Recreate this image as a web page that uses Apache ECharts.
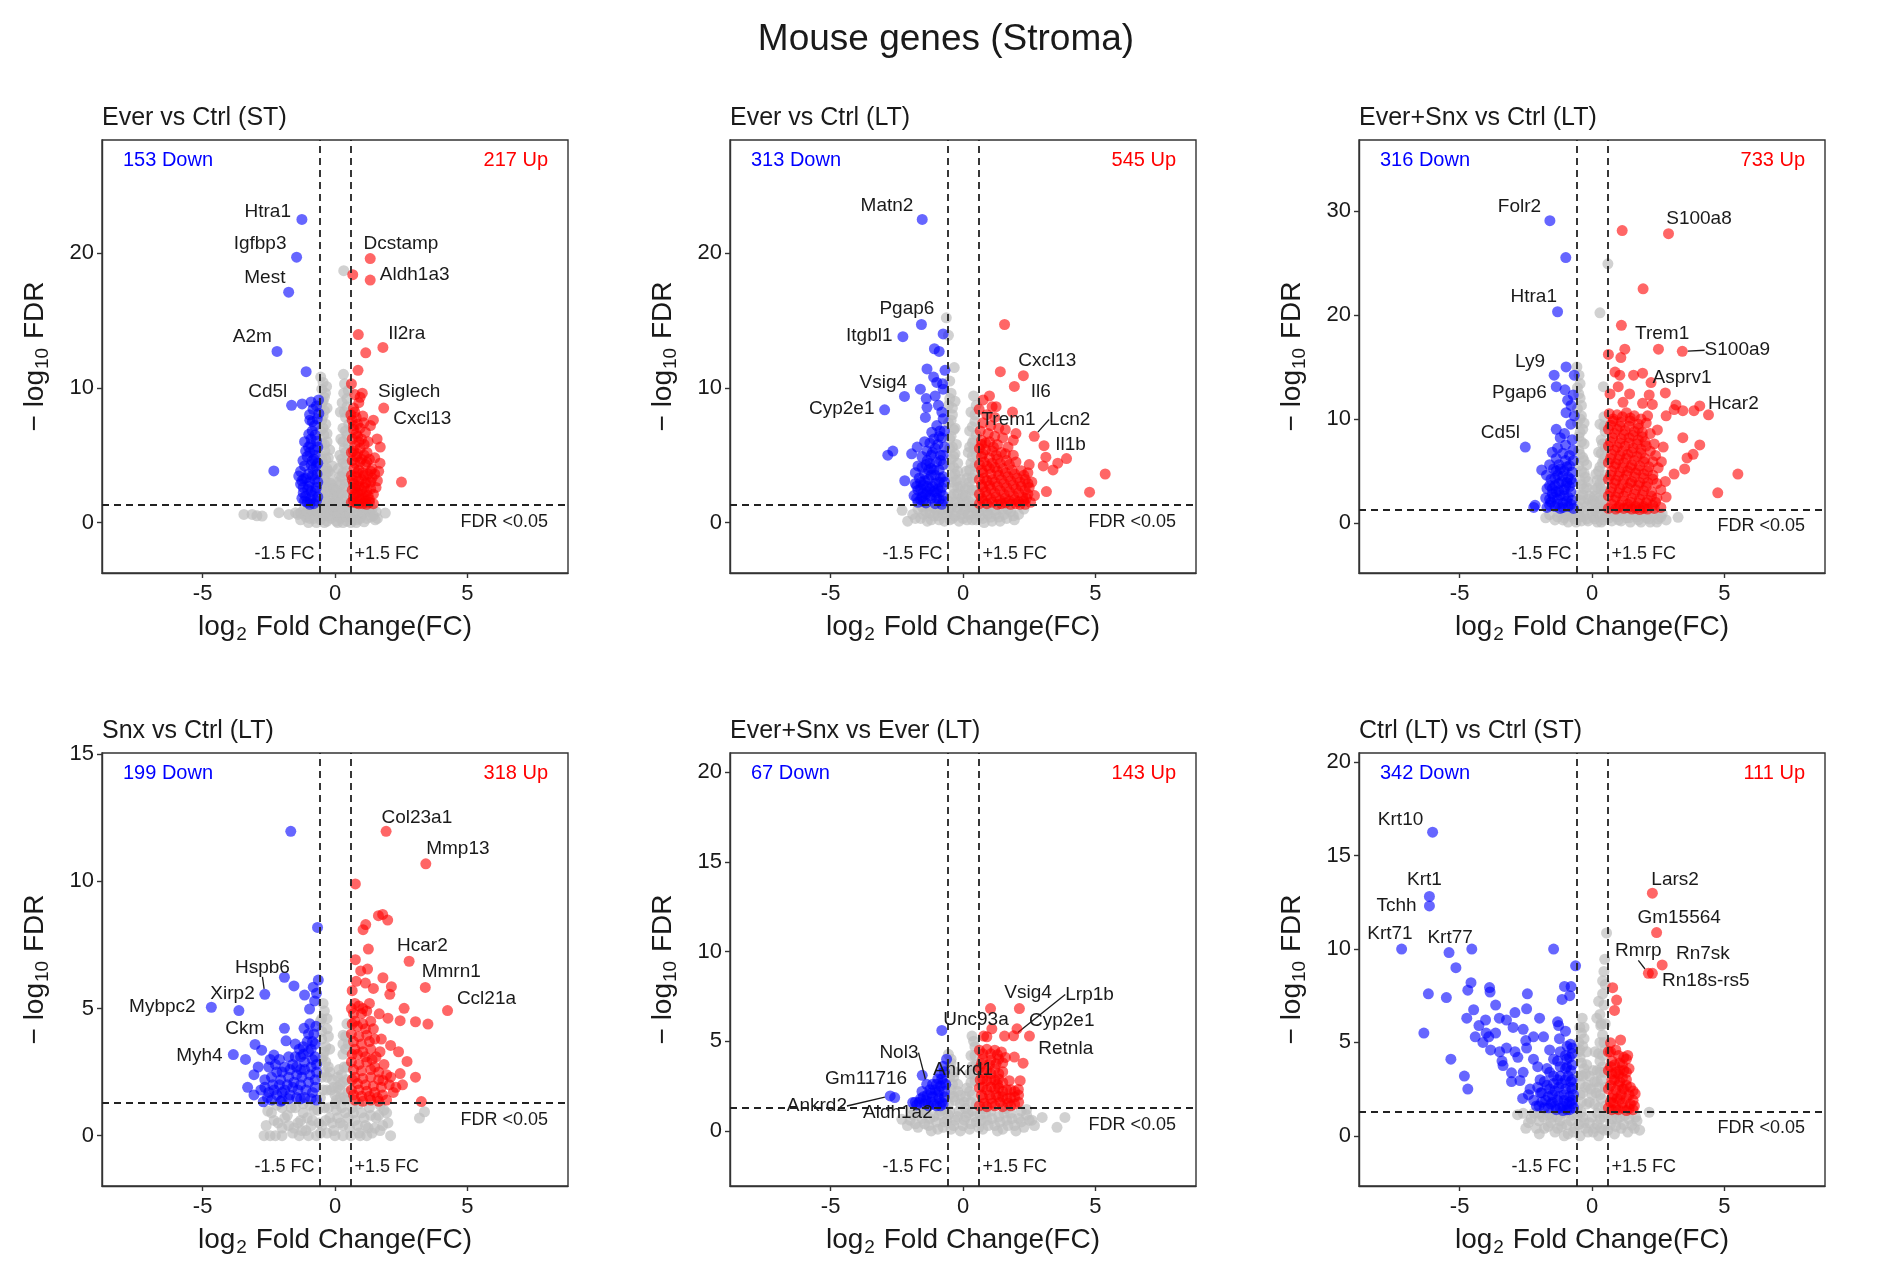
<!DOCTYPE html>
<html>
<head>
<meta charset="utf-8">
<title>Mouse genes (Stroma)</title>
<script src="https://cdn.jsdelivr.net/npm/echarts@6/dist/echarts.min.js"></script>
<style>
  html, body { margin: 0; padding: 0; background: #fff; }
  #chart { width: 1877px; height: 1261px; }
</style>
</head>
<body>
<div id="chart"></div>
<script>
var mainTitle = 'Mouse genes (Stroma)'
var titles = ['Ever vs Ctrl (ST)', 'Ever vs Ctrl (LT)', 'Ever+Snx vs Ctrl (LT)',
  'Snx vs Ctrl (LT)', 'Ever+Snx vs Ever (LT)', 'Ctrl (LT) vs Ctrl (ST)']
var downCounts = [153, 313, 316, 199, 67, 342]
var upCounts = [217, 545, 733, 318, 143, 111]
var xTicks = [-5, 0, 5]
var yTicks = [[0, 10, 20], [0, 10, 20], [0, 10, 20, 30], [0, 5, 10, 15], [0, 5, 10, 15, 20], [0, 5, 10, 15, 20]]
var yRanges = [[-3.75, 28.4], [-3.75, 28.4], [-4.8, 36.8], [-1.98, 15.05], [-3.07, 21.07], [-2.69, 20.5]]
var fcCut = 0.585   // log2(1.5)
var fdrCut = 1.301  // -log10(0.05)

// ---- Ever vs Ctrl (ST)
var p1Down = [[-1.09,11.2],[-1.24,8.8],[-0.9,8.95],[-0.62,9.1],[-0.7,8.65],[-0.96,8.0],[-0.83,8.4],[-0.61,8.1],[-0.77,7.2],[-0.67,7.7],[-0.86,6.8],[-0.99,6.55],[-0.9,6.2],[-0.7,6.05],[-0.92,5.8],[-0.8,5.4],[-1.0,5.6],[-0.65,5.6],[-1.11,5.3],[-0.75,5.0],[-1.05,4.9],[-0.86,4.6],[-1.21,4.6],[-0.9,4.3],[-0.72,4.2],[-0.83,3.95],[-1.3,3.8],[-1.0,3.6],[-0.68,3.6],[-1.37,3.45],[-1.18,3.25],[-0.77,3.2],[-0.95,3.0],[-1.3,2.85],[-0.99,2.7],[-0.7,2.6],[-1.03,2.45],[-0.74,2.35],[-1.2,2.2],[-0.85,2.0],[-1.11,1.95],[-0.92,1.7],[-0.7,1.6],[-1.05,1.5],[-0.8,1.4],[-2.31,3.83],
  [-1.15,4.2],[-1.1,3.3],[-1.25,3.1],[-0.8,4.7],[-0.95,5.2],[-0.75,6.5],[-0.85,7.5],[-0.95,7.6],[-1.15,6.0],[-1.2,2.6],[-0.9,2.3],[-1.15,1.6],[-0.95,1.35],[-0.65,1.9],[-0.65,3.0],[-0.65,4.4],[-0.85,3.5],[-1.25,1.8]]
var p1Up = [[0.67,18.4],[0.88,13.95],[1.16,12.6],[0.87,11.3],[0.62,10.3],[0.75,9.5],[0.9,8.9],[0.95,9.3],[0.7,8.5],[1.45,7.6],[1.34,7.2],[1.09,7.4],[0.8,7.8],[0.65,7.6],[0.95,7.0],[0.7,6.9],[1.15,6.7],[1.59,6.2],[0.85,6.4],[1.0,6.2],[0.65,6.2],[1.25,6.0],[1.71,5.6],[0.75,5.7],[0.95,5.5],[1.21,5.2],[0.62,5.2],[1.1,5.0],[0.82,4.9],[1.3,4.7],[1.5,4.8],[0.65,4.6],[0.95,4.5],[1.15,4.3],[1.4,4.0],[0.72,4.0],[0.9,3.9],[1.65,3.8],[1.05,3.7],[1.25,3.6],[0.62,3.5],[0.8,3.4],[1.4,3.3],[1.0,3.2],[1.2,3.0],[0.7,2.9],[2.51,3.0],[0.9,2.7],[0.75,2.55],[1.1,2.6],[1.35,2.5],[0.65,2.4],[0.85,2.2],[1.05,2.1],[1.25,2.0],[0.7,1.9],[0.95,1.7],[1.15,1.6],[0.62,1.5],[0.8,1.45],[1.05,1.4],[1.3,1.5],
  [0.6,8.0],[0.75,8.2],[0.85,7.3],[1.05,7.9],[0.7,7.2],[0.8,6.6],[0.9,6.0],[1.1,5.8],[0.7,5.3],[0.85,5.1],[1.0,4.7],[1.2,4.5],[0.75,4.4],[0.85,3.7],[1.1,3.5],[1.35,3.8],[0.65,3.2],[0.9,3.1],[1.15,2.9],[1.35,3.0],[1.5,3.6],[0.8,2.7],[1.0,2.4],[1.2,2.3],[1.45,2.1],[0.75,2.1],[0.9,1.9],[1.1,1.8],[1.3,1.7],[0.7,1.6],[0.9,1.4],[1.2,1.35],[1.45,1.4],[1.55,2.6],[1.6,3.1],[1.7,4.4]]
var p1Ns = [[-0.54,10.8],[-0.32,10.1],[-0.36,9.6],[-0.5,9.9],[-0.45,9.0],[-0.55,8.5],[-0.4,8.3],[-0.5,7.6],[-0.35,7.3],[-0.55,6.8],[-0.42,6.5],[-0.3,6.0],[-0.5,5.9],[-0.38,5.3],[-0.55,5.0],[-0.25,4.8],[-0.45,4.4],[-0.3,4.0],[-0.55,3.6],[-0.18,3.6],[-0.4,3.2],[-0.1,2.8],[-0.28,2.6],[-0.5,2.4],[-0.05,2.0],[-0.2,1.8],[-0.4,1.7],[-0.55,1.4],
  [0.32,11.0],[0.36,10.3],[0.33,9.6],[0.5,9.8],[0.27,8.9],[0.45,8.6],[0.2,8.2],[0.4,7.8],[0.52,7.3],[0.3,7.0],[0.45,6.5],[0.22,6.2],[0.5,5.8],[0.35,5.5],[0.18,5.0],[0.48,4.8],[0.3,4.4],[0.12,4.0],[0.45,3.8],[0.25,3.4],[0.52,3.0],[0.08,3.0],[0.35,2.6],[0.15,2.2],[0.5,2.1],[0.0,1.6],[0.3,1.6],[0.5,1.4],[0.33,18.7],
  [-0.5,8.9],[-0.45,7.0],[-0.4,5.8],[-0.5,4.7],[-0.35,4.7],[-0.45,3.9],[-0.25,3.8],[-0.35,3.6],[-0.45,2.9],[-0.3,3.0],[-0.15,2.9],[-0.35,2.2],[-0.2,2.3],[-0.05,2.5],[-0.45,2.0],[-0.3,1.5],[-0.1,1.4],[0.1,2.0],[0.2,2.8],[0.05,2.4],[0.15,1.5],[0.4,1.8],[0.25,2.2],[0.4,2.9],[0.3,3.7],[0.18,3.4],[0.4,4.3],[0.25,4.7],[0.4,5.2],[0.3,6.0],[0.4,6.8],[0.35,8.2],[0.45,9.2],[-0.45,10.4],[-0.4,9.3],[-0.3,8.5],[-0.45,7.9],[-0.3,6.6],[-0.2,5.4],[-0.1,4.2],
  [-1.4,0.6],[-1.2,0.9],[-1.1,0.4],[-1.0,1.1],[-0.9,0.7],[-0.8,0.3],[-0.75,1.0],[-0.6,0.6],[-0.55,0.2],[-0.45,1.1],[-0.4,0.5],[-0.3,0.1],[-0.25,0.8],[-0.15,0.3],[-0.1,1.1],[0.0,0.6],[0.05,0.1],[0.15,0.9],[0.2,0.3],[0.3,1.1],[0.35,0.6],[0.45,0.1],[0.5,0.9],[0.6,0.4],[0.7,1.1],[0.75,0.7],[0.85,0.2],[0.9,1.0],[1.0,0.5],[1.1,0.9],[1.2,0.3],[1.3,0.8],[1.45,0.5],[1.6,0.3],[1.2,1.15],[-0.6,1.2],
  [-1.3,0.7],[-1.15,0.6],[-1.05,0.8],[-0.95,0.3],[-0.85,0.9],[-0.65,0.8],[-0.5,0.6],[-0.35,0.9],[-0.2,0.5],[-0.05,0.9],[0.1,0.5],[0.25,0.7],[0.4,0.4],[0.55,0.7],[0.65,0.2],[0.8,0.9],[0.95,0.3],[1.05,0.7],[1.15,1.1],[1.35,0.4],[1.4,1.0],[1.55,0.8],[-1.0,0.0],[-0.4,0.0],[0.3,0.0],[0.8,0.0],[-0.5,1.2],[0.0,1.2],[0.45,1.25],[0.9,1.25],[-0.2,1.2],[-0.85,1.25],
  [-3.44,0.6],[-3.13,0.6],[-2.95,0.5],[-2.75,0.48],[-2.12,0.73],[-1.74,0.6],[-1.49,0.73],[1.9,0.7],[1.52,0.2],[-1.3,0.2],[-0.7,0.0],[0.1,0.0],[0.6,0.0],[1.1,0.05]]
var p1Genes = [['Htra1',-1.25,22.5],['Igfbp3',-1.45,19.7],['Mest',-1.75,17.1],['A2m',-2.19,12.7],['Cd5l',-1.64,8.7],
  ['Dcstamp',1.33,19.6],['Aldh1a3',1.33,18.0],['Il2ra',1.81,13.0],['Siglech',1.03,9.6],['Cxcl13',1.84,8.5]]

// ---- Ever vs Ctrl (LT)
var p2Down = [[-0.75,14.0],[-1.08,12.9],[-0.9,12.7],[-1.36,11.4],[-0.68,11.3],[-1.11,10.8],[-0.99,10.4],[-0.77,10.3],[-0.75,9.9],[-1.61,9.9],[-1.39,9.2],[-1.05,9.4],[-0.93,8.7],[-1.36,8.55],[-1.42,7.8],[-0.8,8.2],[-2.84,5.0],[-2.65,5.3],[-2.2,3.1],[-1.94,5.1],[-1.73,5.6],[-1.45,6.0],[-1.36,5.3],[-1.18,6.7],[-0.99,7.2],[-0.75,7.7],[-0.87,6.8],[-1.1,6.2],[-0.8,6.3],[-1.25,5.9],[-0.95,5.8],[-0.7,5.6],[-1.55,4.9],[-1.15,5.2],[-0.85,5.0],[-1.35,4.6],[-1.0,4.5],[-0.75,4.3],[-1.7,4.2],[-1.55,4.1],[-1.2,4.0],[-1.1,3.9],[-0.9,3.9],[-1.8,3.7],[-1.45,3.6],[-1.05,3.5],[-0.75,3.4],[-1.65,3.3],[-1.3,3.2],[-1.6,3.0],[-0.9,3.0],[-1.8,2.9],[-1.5,2.8],[-1.15,2.7],[-0.8,2.6],[-1.25,2.5],[-1.7,2.4],[-1.35,2.3],[-1.5,2.2],[-1.0,2.2],[-0.75,2.0],[-1.85,2.0],[-1.55,1.9],[-1.2,1.8],[-0.9,1.7],[-1.6,1.7],[-1.7,1.5],[-1.4,1.45],[-1.05,1.4],[-0.8,1.35],
  [-1.75,2.7],[-1.6,2.5],[-1.45,3.1],[-1.35,2.7],[-1.2,3.5],[-1.05,2.9],[-0.95,2.5],[-0.85,3.3],[-0.7,3.0],[-1.3,3.9],[-1.4,4.3],[-1.25,4.4],[-0.85,4.6],[-1.05,5.5],[-0.9,6.4],[-1.2,5.0],[-1.5,1.6],[-1.25,2.0],[-1.0,1.8],[-0.75,1.6],[-1.75,1.8],[-1.4,2.1],[-1.1,2.3],[-0.85,2.3],[-0.75,5.0],[-0.7,6.8]]
var p2Up = [[1.57,14.7],[1.41,11.2],[1.0,9.4],[0.76,9.1],[1.1,8.6],[1.25,8.6],[0.61,8.4],[0.9,8.0],[1.2,7.8],[2.0,6.6],[0.75,7.4],[1.05,7.2],[1.35,7.0],[1.6,6.9],[0.65,6.8],[0.95,6.6],[1.2,6.4],[1.5,6.3],[1.9,6.1],[0.7,6.1],[1.0,6.0],[1.3,5.8],[1.7,5.6],[0.62,5.5],[0.85,5.4],[1.1,5.3],[1.45,5.2],[1.9,5.0],[0.7,4.9],[1.0,4.8],[1.3,4.7],[1.65,4.6],[2.0,4.5],[2.5,4.3],[0.62,4.3],[0.9,4.2],[1.2,4.1],[1.5,4.0],[1.85,3.9],[2.2,3.85],[2.45,3.7],[0.75,3.7],[1.05,3.6],[1.35,3.5],[1.7,3.4],[2.05,3.3],[2.35,3.2],[0.62,3.2],[0.9,3.1],[1.2,3.0],[2.6,3.0],[1.55,2.9],[1.9,2.8],[2.2,2.7],[2.5,2.6],[0.75,2.6],[1.05,2.5],[1.4,2.4],[1.75,2.3],[2.1,2.2],[2.45,2.1],[2.7,2.0],[0.62,2.1],[0.9,2.0],[1.25,1.9],[1.6,1.8],[1.95,1.7],[2.3,1.6],[2.55,1.5],[0.75,1.6],[1.1,1.5],[1.45,1.4],[1.8,1.35],[2.15,1.35],[0.62,1.4],[3.13,4.85],[3.58,4.4],[3.91,4.75],[3.03,4.2],[3.4,3.9],[5.37,3.6],[4.78,2.25],[3.15,2.3],
  [0.7,5.8],[0.85,5.9],[1.15,5.6],[0.75,5.1],[1.25,5.0],[1.6,5.1],[0.8,4.5],[1.1,4.4],[1.4,4.4],[1.75,4.3],[0.7,3.9],[1.0,4.0],[1.3,3.8],[1.6,3.7],[1.95,3.6],[2.3,3.5],[0.8,3.3],[1.1,3.2],[1.45,3.2],[1.8,3.1],[2.15,3.0],[2.45,2.9],[0.7,2.8],[1.0,2.75],[1.3,2.7],[1.65,2.6],[2.0,2.5],[2.35,2.4],[0.85,2.3],[1.2,2.2],[1.55,2.1],[1.9,2.0],[2.25,1.9],[0.7,1.8],[1.05,1.75],[1.4,1.65],[1.75,1.6],[2.1,1.55],[2.4,1.8],[0.9,1.4],[1.3,1.35],[1.6,1.45],[2.0,1.4],[2.35,1.35]]
var p2Ns = [[-0.63,15.2],[-0.55,13.9],[-0.33,11.5],[-0.5,10.5],[-0.45,9.6],[-0.3,9.0],[-0.55,8.7],[-0.4,8.0],[-0.55,7.4],[-0.3,7.0],[-0.45,6.4],[-0.25,5.8],[-0.5,5.5],[-0.35,4.9],[-0.2,4.4],[-0.5,4.2],[-0.3,3.6],[-0.1,3.2],[-0.45,3.0],[-0.2,2.6],[0.0,2.0],[-0.35,2.1],[-0.55,1.6],[-0.15,1.5],
  [0.4,9.4],[0.5,8.7],[0.3,8.2],[0.45,7.5],[0.25,6.8],[0.5,6.5],[0.35,5.9],[0.2,5.2],[0.5,5.0],[0.3,4.4],[0.12,3.8],[0.45,3.6],[0.25,3.0],[0.08,2.5],[0.5,2.4],[0.3,1.9],[0.1,1.5],[0.5,1.4],
  [-0.5,9.2],[-0.4,8.5],[-0.45,7.6],[-0.35,6.9],[-0.5,6.2],[-0.4,5.6],[-0.3,5.1],[-0.45,4.7],[-0.35,4.1],[-0.2,3.8],[-0.4,3.4],[-0.25,3.1],[-0.1,2.7],[-0.35,2.6],[-0.2,2.1],[-0.05,1.8],[-0.45,1.9],[-0.3,1.5],[0.1,2.0],[0.2,2.6],[0.15,3.3],[0.35,3.3],[0.25,3.9],[0.35,4.9],[0.25,5.6],[0.4,6.1],[0.35,7.1],[0.45,8.0],[0.2,1.6],[0.35,2.4],[0.45,4.2],[0.42,5.5],
  [-2.3,0.9],[-2.09,0.1],[-1.9,0.6],[-1.7,1.0],[-1.6,0.3],[-1.4,0.8],[-1.3,1.2],[-1.2,0.2],[-1.1,1.1],[-0.95,0.5],[-0.8,0.9],[-0.7,0.1],[-0.6,0.6],[-0.45,1.1],[-0.4,0.3],[-0.25,0.8],[-0.15,0.1],[-0.05,0.6],[0.1,1.0],[0.15,0.2],[0.3,0.6],[0.4,1.1],[0.5,0.2],[0.6,0.8],[0.75,0.3],[0.85,1.1],[0.95,0.6],[1.1,0.1],[1.2,0.9],[1.35,0.4],[1.5,1.0],[1.65,0.3],[1.8,0.8],[1.94,0.2],[2.1,0.6],[2.3,1.0],
  [-1.8,0.3],[-1.5,0.6],[-1.35,0.1],[-1.25,0.7],[-1.0,0.9],[-0.9,0.2],[-0.75,0.6],[-0.55,0.9],[-0.5,0.2],[-0.3,0.5],[-0.2,1.1],[0.0,0.3],[0.05,0.9],[0.2,0.6],[0.35,0.2],[0.5,0.9],[0.65,0.5],[0.8,0.0],[0.9,0.8],[1.05,0.4],[1.25,0.6],[1.4,0.1],[1.55,0.6],[1.7,1.0],[1.9,0.5],[-1.1,0.5],[-0.65,1.2],[0.25,1.2],[1.0,1.2],[-1.55,1.2]]
var p2Genes = [['Matn2',-1.54,22.5],['Pgap6',-1.57,14.7],['Itgbl1',-2.27,13.8],['Vsig4',-2.21,9.36],['Cyp2e1',-2.96,8.37],
  ['Cxcl13',2.28,10.9],['Il6',1.94,10.1],['Trem1',1.87,8.2],['Lcn2',2.69,6.4],['Il1b',3.06,5.7]]

// ---- Ever+Snx vs Ctrl (LT)
var p3Down = [[-0.99,25.5],[-0.98,15.0],[-0.67,14.2],[-1.02,12.8],[-0.92,11.8],[-0.71,12.3],[-0.79,11.3],[-0.98,10.6],[-0.67,10.3],[-1.35,9.0],[-1.04,8.6],[-0.8,9.5],[-1.2,8.2],[-0.75,8.0],[-1.0,7.5],[-1.3,7.2],[-0.72,7.0],[-1.5,6.8],[-1.1,6.7],[-0.85,6.5],[-1.35,6.2],[-0.7,6.0],[-1.0,6.0],[-1.9,5.1],[-1.72,4.6],[-1.6,5.6],[-1.25,5.6],[-0.85,5.5],[-1.45,5.2],[-1.05,5.0],[-0.75,4.9],[-1.3,4.6],[-0.9,4.4],[-1.55,4.2],[-1.15,4.0],[-0.75,3.9],[-1.4,3.6],[-1.0,3.5],[-1.7,3.3],[-1.25,3.1],[-0.8,3.0],[-1.5,2.8],[-1.05,2.6],[-1.75,2.4],[-1.3,2.3],[-0.75,2.2],[-1.55,2.0],[-1.1,1.9],[-0.9,1.6],[-1.4,1.6],[-2.15,1.7],[-2.2,1.5],[-1.7,1.5],[-0.7,1.4],[-1.2,1.4],
  [-1.6,2.3],[-1.45,2.5],[-1.2,2.7],[-0.9,2.5],[-1.35,3.0],[-1.05,3.2],[-0.85,3.5],[-1.6,3.6],[-1.25,3.8],[-0.95,3.9],[-1.4,4.3],[-1.1,4.5],[-0.8,4.2],[-1.2,5.2],[-0.95,5.4],[-1.35,5.0],[-1.1,1.5],[-1.3,1.8],[-0.8,1.8],[-1.6,1.7],[-0.95,2.1],[-1.5,3.3]]
var p3Up = [[1.14,28.1],[1.93,22.5],[1.11,19.0],[0.62,16.2],[1.24,16.7],[1.09,15.9],[0.87,14.5],[1.05,14.2],[1.57,14.2],[1.91,14.4],[0.99,13.1],[1.42,12.4],[0.68,12.4],[2.16,12.3],[1.17,11.6],[1.91,11.5],[2.77,12.5],[3.17,11.35],[3.1,10.9],[3.43,10.8],[3.85,10.8],[4.4,10.4],[2.8,10.3],[2.28,11.4],[2.1,10.3],[2.47,8.95],[3.43,8.2],[4.07,7.5],[3.82,6.6],[3.59,6.25],[2.69,7.3],[2.62,5.9],[3.1,4.7],[3.5,5.2],[5.51,4.7],[4.75,2.9],[2.8,2.5],[2.77,4.0],
  [0.65,10.5],[0.95,10.4],[1.3,10.6],[1.6,10.3],[1.85,10.0],[0.8,9.8],[1.1,9.7],[1.45,9.8],[1.75,9.5],[2.05,9.6],[0.62,9.0],[0.95,9.0],[1.25,8.9],[1.6,8.8],[1.9,8.7],[2.2,8.6],[0.78,8.2],[1.1,8.1],[1.4,8.2],[1.75,8.0],[2.0,7.8],[2.35,7.6],[0.62,7.4],[0.95,7.3],[1.25,7.4],[1.55,7.2],[1.85,7.1],[2.2,6.9],[0.75,6.6],[1.05,6.5],[1.35,6.6],[1.7,6.4],[2.0,6.2],[2.4,6.5],[0.62,5.8],[0.9,5.7],[1.2,5.8],[1.5,5.6],[1.8,5.5],[2.15,5.4],[2.5,5.3],[0.75,5.0],[1.05,4.9],[1.35,5.0],[1.65,4.8],[1.95,4.7],[2.3,4.6],[0.62,4.2],[0.9,4.1],[1.2,4.2],[1.5,4.0],[1.8,3.9],[2.1,3.9],[2.45,3.8],[0.75,3.4],[1.05,3.3],[1.35,3.4],[1.65,3.2],[1.95,3.1],[2.25,3.0],[2.6,3.2],[0.62,2.6],[0.9,2.5],[1.2,2.6],[1.5,2.4],[1.8,2.3],[2.1,2.2],[2.45,2.4],[0.75,1.8],[1.05,1.7],[1.35,1.8],[1.65,1.6],[1.95,1.6],[2.3,1.7],[2.6,1.5],[0.62,1.4],[0.9,1.35],[1.2,1.4],[1.5,1.35],[1.8,1.3],[2.1,1.35],
  [0.8,10.0],[1.15,10.2],[1.45,10.1],[0.7,9.4],[1.05,9.3],[1.4,9.3],[1.75,9.1],[0.85,8.6],[1.2,8.5],[1.55,8.4],[1.9,8.3],[0.7,7.8],[1.05,7.7],[1.4,7.7],[1.7,7.6],[2.05,7.4],[0.85,7.0],[1.15,6.9],[1.5,6.8],[1.85,6.7],[0.7,6.2],[1.0,6.1],[1.3,6.2],[1.6,6.0],[1.95,5.9],[2.3,5.9],[0.85,5.4],[1.15,5.3],[1.45,5.3],[1.75,5.1],[2.1,5.0],[0.7,4.6],[1.0,4.5],[1.3,4.6],[1.6,4.4],[1.95,4.3],[2.3,4.2],[0.85,3.8],[1.15,3.7],[1.45,3.8],[1.75,3.6],[2.05,3.5],[0.7,3.0],[1.0,2.9],[1.3,3.0],[1.6,2.8],[1.9,2.7],[2.25,2.6],[0.85,2.2],[1.15,2.1],[1.45,2.0],[1.75,1.9],[2.05,1.95],[2.4,2.0],[1.0,1.5],[1.35,1.5],[1.65,1.4],[1.95,1.4],[2.35,1.4]]
var p3Ns = [[0.6,24.9],[0.3,20.2],[0.43,13.1],[-0.57,15.0],[-0.49,14.2],[-0.55,13.0],[-0.45,12.0],[-0.55,11.0],[-0.4,10.3],[-0.55,9.6],[-0.35,9.0],[-0.5,8.3],[-0.3,7.6],[-0.5,7.0],[-0.35,6.3],[-0.2,5.6],[-0.5,5.5],[-0.3,4.8],[-0.45,4.1],[-0.15,4.0],[-0.3,3.3],[-0.1,2.6],[-0.5,2.7],[-0.3,2.0],[0.0,1.8],[-0.55,1.6],
  [0.45,10.2],[0.3,9.5],[0.5,8.8],[0.35,8.0],[0.5,7.2],[0.25,6.8],[0.45,6.2],[0.3,5.4],[0.15,4.7],[0.5,4.6],[0.3,3.8],[0.1,3.2],[0.45,3.0],[0.25,2.4],[0.05,2.2],[0.5,1.8],[0.25,1.5],
  [-0.45,13.4],[-0.5,12.4],[-0.4,11.3],[-0.45,10.0],[-0.3,9.6],[-0.45,8.7],[-0.4,7.8],[-0.45,6.6],[-0.3,6.0],[-0.4,5.0],[-0.25,4.4],[-0.4,3.7],[-0.2,3.4],[-0.35,2.7],[-0.15,2.3],[-0.45,2.2],[-0.2,1.6],[0.1,2.6],[0.2,3.4],[0.35,3.3],[0.2,4.1],[0.4,4.2],[0.25,5.0],[0.4,5.8],[0.35,6.7],[0.4,7.6],[0.45,9.3],[0.15,1.9],[0.35,2.2],[0.4,1.5],
  [-1.75,0.5],[-1.6,0.8],[-1.4,0.3],[-1.2,1.0],[-1.05,0.5],[-0.9,0.1],[-0.8,0.9],[-0.65,0.4],[-0.5,1.1],[-0.4,0.2],[-0.3,0.7],[-0.15,0.2],[0.0,1.0],[0.1,0.4],[0.25,0.8],[0.35,0.1],[0.5,0.6],[0.6,1.1],[0.75,0.2],[0.85,0.7],[1.0,0.3],[1.15,1.0],[1.3,0.5],[1.45,0.1],[1.6,0.8],[1.75,0.3],[1.9,1.0],[2.05,0.5],[2.2,0.1],[2.35,0.8],[2.5,0.4],[2.65,0.9],[2.8,0.3],[3.25,0.55],
  [-1.3,0.6],[-1.1,0.3],[-0.95,0.8],[-0.75,0.6],[-0.6,0.1],[-0.45,0.6],[-0.3,1.1],[-0.2,0.4],[0.05,0.6],[0.2,0.1],[0.3,1.1],[0.45,0.3],[0.65,0.5],[0.8,1.0],[0.95,0.6],[1.1,0.2],[1.25,0.8],[1.4,0.5],[1.55,1.1],[1.7,0.6],[1.85,0.1],[2.0,0.8],[2.15,0.4],[2.3,1.1],[2.45,0.1],[2.6,0.6],[-0.85,1.2],[0.1,1.2],[1.0,1.2],[1.8,1.2]]
var p3Genes = [['Folr2',-1.59,29.05],['Htra1',-1.3,20.3],['Ly9',-1.43,14.2],['Pgap6',-1.35,13.1],['Cd5l',-2.52,7.3],
  ['S100a8',2.89,27.8],['Trem1',2.51,16.7],['S100a9',3.41,16.5],['Asprv1',2.23,13.5],['Hcar2',4.07,11.25]]

// ---- Snx vs Ctrl (LT)
var p4Down = [[-1.67,11.97],[-0.66,8.19],[-1.91,6.23],[-1.55,5.89],[-1.15,5.53],[-0.82,5.84],[-0.63,6.12],[-0.77,5.3],[-0.96,4.98],[-0.7,5.6],[-2.77,3.36],[-3.38,3.0],[-3.06,2.4],[-3.06,1.6],[-2.71,1.33],[-1.91,4.22],[-1.85,3.73],[-1.17,4.22],[-1.0,4.0],[-0.72,4.3],[-2.31,3.17],[-2.1,3.0],[-1.5,3.6],[-0.85,3.7],[-1.2,3.5],[-2.5,2.7],[-2.9,2.7],[-2.2,2.5],[-1.9,2.7],[-1.6,2.8],[-1.3,3.1],[-1.0,3.3],[-0.75,3.1],[-1.3,2.6],[-2.65,2.2],[-2.35,2.0],[-2.05,2.2],[-1.75,2.3],[-1.45,2.4],[-1.15,2.6],[-0.9,2.7],[-0.7,2.5],[-3.3,1.9],[-2.8,1.8],[-2.5,1.7],[-2.2,1.6],[-1.9,1.8],[-1.6,1.9],[-1.3,2.0],[-1.0,2.1],[-0.75,1.9],[-2.4,1.4],[-2.05,1.35],[-1.75,1.45],[-1.45,1.5],[-1.15,1.5],[-0.9,1.45],[-0.7,1.4],
  [-2.55,1.5],[-2.3,1.8],[-2.0,1.7],[-1.7,1.6],[-1.4,1.8],[-1.1,1.8],[-0.85,1.7],[-2.4,2.3],[-2.1,2.0],[-1.8,2.0],[-1.55,2.1],[-1.25,2.3],[-0.95,2.4],[-0.75,2.2],[-2.25,2.8],[-2.0,2.5],[-1.7,2.6],[-1.45,2.7],[-1.15,2.9],[-0.85,3.0],[-0.7,2.8],[-1.75,3.1],[-1.5,3.1],[-1.2,3.2],[-0.9,3.4],[-0.75,3.6],[-1.35,3.4],[-1.05,3.7],[-0.8,4.0],[-0.95,4.4],[-1.3,1.45],[-2.0,1.4],[-2.65,1.9],[-2.45,3.0]]
var p4Up = [[0.77,9.9],[1.64,8.65],[1.99,8.48],[1.8,8.7],[1.16,8.3],[1.06,8.1],[1.26,7.34],[0.77,6.92],[0.97,6.48],[1.23,6.55],[1.81,6.21],[1.45,5.79],[2.13,5.86],[2.07,5.56],[2.61,5.01],[0.8,6.07],[1.15,6.0],[0.65,5.7],[1.3,5.2],[2.0,4.62],[2.46,4.52],[3.04,4.48],[3.51,4.39],[1.67,4.79],[2.1,3.55],[2.4,3.3],[2.72,2.92],[2.46,2.44],[3.04,2.3],[1.81,2.17],[3.26,1.34],
  [0.62,5.0],[0.9,5.1],[1.2,4.9],[1.0,4.8],[0.75,4.5],[1.05,4.4],[1.35,4.5],[0.62,4.0],[0.9,3.9],[1.2,3.95],[1.5,3.8],[0.75,3.4],[1.05,3.3],[1.35,3.4],[1.7,3.3],[1.4,3.0],[0.62,2.9],[0.9,2.8],[1.2,2.9],[1.5,2.7],[1.85,2.8],[0.75,2.3],[1.05,2.25],[1.35,2.3],[1.65,2.2],[2.1,2.3],[0.62,1.8],[0.9,1.8],[1.2,1.75],[1.5,1.7],[1.8,1.6],[2.2,1.7],[2.3,1.9],[2.55,2.0],[0.75,1.4],[1.05,1.35],[1.35,1.4],[1.65,1.35],
  [0.75,5.2],[1.05,5.0],[0.7,4.8],[0.85,4.3],[1.15,4.2],[0.7,3.7],[1.0,3.6],[1.3,3.7],[0.85,3.2],[1.15,3.1],[1.55,3.1],[0.7,2.6],[1.0,2.55],[1.35,2.6],[1.65,2.5],[1.95,2.4],[0.85,2.05],[1.15,2.0],[1.45,1.95],[1.75,1.9],[2.05,2.0],[0.7,1.6],[1.0,1.55],[1.3,1.55],[1.6,1.5],[1.95,1.4],[0.65,2.2],[0.65,3.2],[0.65,4.4],[1.45,4.2],[1.75,3.8]]
var p4Ns = [[-0.45,5.2],[-0.3,4.6],[-0.55,4.5],[-0.3,4.2],[-0.5,3.8],[-0.2,3.4],[-0.45,3.1],[-0.25,2.7],[-0.1,2.2],[-0.5,2.3],[-0.3,1.8],[0.0,1.6],[-0.55,1.5],[0.31,3.95],[0.45,4.4],[0.5,3.6],[0.3,3.2],[0.15,2.6],[0.45,2.7],[0.3,2.1],[0.1,1.9],[0.5,1.7],[0.35,1.5],
  [-0.4,4.9],[-0.5,4.1],[-0.35,3.5],[-0.5,3.0],[-0.35,2.9],[-0.2,2.5],[-0.4,2.5],[-0.15,1.8],[-0.45,1.8],[0.05,1.4],[0.2,1.5],[0.25,2.4],[0.35,2.7],[0.4,3.4],[0.4,3.9],[0.2,2.0],[0.45,2.2],[0.4,1.4],
  [-0.5,4.6],[-0.25,3.9],[-0.4,3.3],[-0.3,2.3],[-0.05,1.9],[0.1,2.3],[0.3,3.6],[0.2,1.8],
  [-2.68,0.0],[-2.45,0.0],[-2.25,0.0],[-2.54,0.97],[-2.3,0.6],[-2.0,1.1],[-2.0,0.3],[-1.8,0.8],[-1.6,0.1],[-1.5,1.1],[-1.4,0.5],[-1.35,0.0],[-1.2,0.9],[-1.1,0.2],[-0.95,1.2],[-0.85,0.6],[-0.7,0.0],[-0.65,1.0],[-0.5,0.4],[-0.4,1.1],[-0.3,0.1],[-0.2,0.7],[-0.05,0.2],[0.05,1.0],[0.2,0.5],[0.3,0.0],[0.4,0.9],[0.55,0.3],[0.65,1.1],[0.75,0.6],[0.9,0.1],[0.95,0.0],[1.0,0.9],[1.15,0.4],[1.3,1.1],[1.4,0.1],[1.55,0.7],[1.7,0.2],[1.85,1.0],[2.0,0.5],[2.1,0.0],[3.19,0.69],[3.38,0.94],
  [-2.6,0.4],[-2.4,0.9],[-2.15,0.5],[-1.9,0.7],[-1.75,0.4],[-1.65,1.1],[-1.55,0.3],[-1.3,0.6],[-1.25,0.2],[-1.05,0.7],[-0.9,0.4],[-0.8,1.0],[-0.6,0.5],[-0.55,0.1],[-0.35,0.6],[-0.25,1.1],[-0.1,0.5],[0.0,0.0],[0.1,0.7],[0.25,1.1],[0.3,0.4],[0.5,0.7],[0.6,0.0],[0.7,0.9],[0.85,0.4],[1.1,0.7],[1.25,0.3],[1.35,0.8],[1.5,0.3],[1.65,0.8],[1.8,0.4],[1.95,0.9],[-2.0,0.0],[-1.0,0.0],[1.2,0.0],[-2.2,1.2],[-1.2,1.25],[0.0,1.25],[0.9,1.25],[1.7,1.2]]
var p4Genes = [['Col23a1',1.93,11.97],['Mmp13',3.43,10.69],['Hcar2',2.8,6.86],['Mmrn1',3.41,5.83],['Ccl21a',4.25,4.92],
  ['Hspb6',-2.65,5.56],['Xirp2',-3.63,4.92],['Mybpc2',-4.67,5.05],['Ckm',-3.02,3.59],['Myh4',-3.84,3.19]]

// ---- Ever+Snx vs Ever (LT)
var p5Down = [[-0.75,3.6],[-1.54,3.1],[-1.75,1.45],[-1.6,1.8],[-1.45,1.5],[-1.35,2.0],[-1.2,1.6],[-1.05,2.3],[-0.9,1.8],[-0.75,2.7],[-0.75,1.5],[-0.95,2.9],[-1.15,2.6],[-1.0,1.4],[-1.25,2.3],[-0.85,3.2],[-0.7,2.2],[-1.55,2.2],[-1.3,1.4],[-0.8,1.6],
  [-1.65,1.6],[-1.5,1.9],[-1.4,1.7],[-1.15,1.9],[-1.1,1.5],[-0.95,2.0],[-0.85,1.4],[-1.0,2.6],[-0.85,2.5],[-0.8,2.9],[-0.7,1.9],[-0.7,3.3],[-1.2,2.1],[-0.9,2.2],[-0.65,2.6],[-1.8,1.6]]
var p5Up = [[1.04,6.82],[1.09,5.69],[1.57,5.29],[0.78,5.29],[0.9,5.25],[1.94,4.12],[2.27,3.78],[2.16,2.8],[2.09,2.31],
  [0.62,4.5],[0.9,4.55],[1.2,4.5],[1.45,4.4],[0.75,4.0],[1.05,3.95],[1.35,4.0],[1.6,4.1],[0.62,3.5],[0.9,3.4],[1.2,3.45],[1.5,3.3],[0.75,2.9],[1.05,2.85],[1.35,2.9],[1.75,2.8],[1.3,2.6],[0.62,2.4],[0.9,2.3],[1.2,2.35],[1.5,2.2],[1.8,2.3],[0.75,1.85],[1.05,1.8],[1.35,1.9],[1.65,1.8],[1.95,1.9],[2.1,1.6],[0.62,1.4],[0.9,1.35],[1.2,1.4],[1.5,1.35],[1.8,1.4],
  [0.75,4.3],[1.05,4.3],[1.3,4.25],[0.7,3.75],[1.0,3.7],[1.25,3.75],[1.5,3.8],[0.75,3.25],[1.05,3.2],[1.35,3.2],[0.65,2.85],[0.9,2.8],[1.2,2.85],[1.5,2.7],[0.75,2.45],[1.05,2.45],[1.35,2.4],[1.65,2.3],[1.95,2.2],[0.7,2.0],[1.0,2.0],[1.25,2.0],[1.5,1.9],[1.8,1.85],[0.8,1.55],[1.1,1.55],[1.4,1.6],[1.7,1.55],[1.95,1.5],[2.1,2.0]]
var p5Ns = [[0.34,5.29],[-0.55,4.27],[-0.45,3.8],[-0.3,3.3],[-0.5,3.0],[-0.2,2.6],[-0.45,2.3],[-0.1,2.0],[-0.3,1.7],[-0.55,1.5],[0.45,4.7],[0.3,4.2],[0.5,3.7],[0.25,3.2],[0.45,2.8],[0.15,2.4],[0.35,2.0],[0.05,1.6],[0.5,1.5],
  [-0.45,4.0],[-0.5,3.5],[-0.35,3.0],[-0.4,2.6],[-0.2,2.2],[-0.5,2.0],[-0.35,1.9],[-0.1,1.5],[0.1,1.9],[0.25,2.2],[0.3,2.7],[0.4,3.2],[0.35,3.6],[0.45,4.2],[0.4,5.0],[0.3,1.6],
  [-2.31,0.65],[-2.1,0.3],[-1.9,0.9],[-1.7,0.2],[-1.55,0.7],[-1.4,1.1],[-1.3,0.3],[-1.1,0.8],[-0.95,0.1],[-0.85,1.1],[-0.7,0.5],[-0.55,0.9],[-0.45,0.1],[-0.3,0.6],[-0.15,1.1],[0.0,0.3],[0.1,0.8],[0.25,0.1],[0.35,1.1],[0.5,0.5],[0.65,0.9],[0.75,0.1],[0.9,0.6],[1.05,1.1],[1.2,0.3],[1.35,0.8],[1.5,0.1],[1.65,0.6],[1.8,1.0],[1.95,0.3],[2.1,0.7],[2.2,1.1],[2.3,0.2],[2.5,0.6],[2.7,0.3],[2.99,0.75],[3.85,0.75],[3.55,0.2],
  [-2.0,0.6],[-1.8,0.4],[-1.65,1.0],[-1.45,0.4],[-1.25,0.7],[-1.2,0.0],[-1.0,0.5],[-0.9,0.9],[-0.75,0.2],[-0.6,0.6],[-0.5,1.1],[-0.35,0.3],[-0.2,0.8],[-0.1,0.0],[0.05,0.6],[0.2,1.0],[0.3,0.4],[0.45,0.8],[0.6,0.2],[0.7,0.6],[0.85,1.0],[0.95,0.3],[1.1,0.7],[1.3,0.0],[1.4,0.5],[1.55,1.0],[1.7,0.3],[1.85,0.7],[2.0,0.0],[2.2,0.5],[2.4,0.9],[2.6,0.6],[-1.5,1.2],[-0.7,1.2],[0.1,1.25],[0.8,1.25],[1.6,1.25],[2.4,1.2],[-1.9,1.2]]
var p5Genes = [['Unc93a',-0.8,5.6],['Nol3',-1.37,2.6],['Ankrd1',-0.62,4.0],['Gm11716',-2.58,1.86],['Ankrd2',-2.75,1.95],['Aldh1a2',-1.9,1.58],
  ['Vsig4',2.13,6.82],['Lrp1b',1.91,5.3],['Cyp2e1',2.04,5.69],['Retnla',2.51,5.29]]

// ---- Ctrl (LT) vs Ctrl (ST)
var p6Down = [[-4.54,10.0],[-1.45,10.0],[-0.62,9.1],[-5.14,9.0],[-4.57,8.2],[-6.18,7.6],[-5.5,7.4],[-4.69,7.8],[-3.87,7.94],[-3.85,7.7],[-2.44,7.6],[-1.04,8.0],[-0.79,7.99],[-1.13,7.3],[-0.84,7.5],[-4.47,6.75],[-4.73,6.3],[-4.27,5.9],[-4.02,6.2],[-3.64,7.0],[-3.5,6.3],[-2.91,6.6],[-2.47,6.8],[-1.98,6.3],[-3.64,5.5],[-4.0,5.5],[-3.23,6.2],[-2.98,5.8],[-2.6,5.7],[-2.21,5.3],[-1.83,5.3],[-1.26,5.9],[-1.3,6.1],[-1.23,5.2],[-1.0,5.6],[-0.81,4.9],[-6.35,5.5],[-4.41,5.3],[-3.9,5.3],[-4.12,5.0],[-3.83,4.6],[-3.49,4.5],[-3.23,4.7],[-2.91,4.5],[-2.5,5.1],[-2.47,4.7],[-2.21,4.1],[-2.8,4.2],[-1.6,4.6],[-5.33,4.1],[-4.82,3.2],[-4.69,2.5],[-3.4,4.0],[-3.36,3.76],[-3.04,3.37],[-2.6,3.4],[-2.72,2.96],[-3.04,2.9],[-2.05,3.7],[-2.62,2.0],[-2.34,2.5],[-2.4,2.2],[-1.96,3.0],[-1.7,3.6],[-1.45,4.1],[-1.2,4.5],[-0.94,4.8],
  [-2.2,1.9],[-1.95,2.3],[-1.7,2.7],[-1.45,3.2],[-1.2,3.7],[-0.95,4.1],[-0.75,4.4],[-2.0,1.6],[-1.75,1.9],[-1.5,2.2],[-1.6,2.5],[-1.25,2.6],[-1.0,3.0],[-1.3,3.0],[-1.0,3.6],[-0.8,3.5],[-0.75,3.0],[-1.8,1.5],[-1.55,1.7],[-1.3,1.9],[-1.05,2.2],[-0.8,2.6],[-1.35,1.4],[-1.1,1.6],[-0.85,1.8],[-0.7,2.2],[-0.95,1.4],[-0.7,1.5],
  [-2.1,1.6],[-1.9,1.8],[-1.65,2.1],[-1.4,2.4],[-1.15,2.8],[-0.9,3.2],[-0.75,3.8],[-1.9,2.3],[-1.65,1.5],[-1.5,1.8],[-1.25,2.1],[-1.0,2.5],[-0.8,2.9],[-1.45,2.8],[-1.2,3.2],[-0.95,3.7],[-1.2,1.5],[-0.95,1.7],[-0.75,1.9],[-1.05,1.9],[-0.85,2.1],[-0.75,2.5],[-1.0,4.3],[-0.85,4.2],[-1.3,4.0],[-1.6,3.4],[-1.8,2.9],[-2.05,2.6],[-0.75,4.7],[-1.1,1.35],[-0.85,1.4],[-0.75,1.7],[-1.4,1.6]]
var p6Up = [[0.78,7.93],[0.93,7.27],[0.85,6.71],[1.08,5.13],[0.7,4.98],[0.62,4.5],[0.9,4.6],[1.3,4.1],[1.35,4.3],[1.2,4.2],[0.75,4.0],[1.05,3.9],[0.7,3.7],[0.62,3.5],[0.9,3.4],[1.2,3.5],[1.4,3.6],[1.0,3.3],[0.75,3.0],[1.05,2.9],[1.3,3.0],[0.62,2.5],[0.9,2.45],[1.15,2.5],[1.45,2.6],[1.63,2.25],[0.75,2.0],[1.05,1.95],[1.3,2.0],[1.55,1.9],[0.8,1.75],[0.62,1.5],[0.9,1.45],[1.15,1.5],[1.4,1.45],[1.6,1.6],
  [0.7,4.5],[1.0,4.3],[0.85,3.8],[1.15,3.8],[0.75,3.3],[1.05,3.5],[1.3,3.4],[0.85,3.0],[1.15,3.1],[0.7,2.7],[1.0,2.7],[1.3,2.7],[0.8,2.2],[1.1,2.2],[1.4,2.2],[0.7,1.8],[1.15,1.75],[1.45,1.7],[0.75,1.4],[1.0,1.4],[1.3,1.35],[1.55,1.4],[1.55,2.4],[1.2,2.5],[0.95,2.0]]
var p6Ns = [[0.55,10.86],[0.48,9.45],[0.4,8.3],[0.5,8.1],[0.25,7.2],[0.45,7.0],[0.18,6.3],[0.5,6.0],[0.33,5.9],[-0.37,6.3],[-0.46,5.8],[-0.3,5.2],[-0.5,5.0],[-0.2,4.5],[-0.45,4.2],[-0.3,3.6],[-0.1,3.2],[-0.5,3.2],[-0.25,2.6],[0.0,2.2],[-0.45,2.2],[-0.2,1.7],[-0.55,1.5],[0.3,5.0],[0.12,4.5],[0.5,4.6],[0.3,4.0],[0.05,3.5],[0.45,3.4],[0.2,2.9],[0.5,2.6],[0.3,2.2],[0.1,1.7],[0.5,1.6],
  [-0.4,5.5],[-0.35,4.8],[-0.45,4.6],[-0.4,3.9],[-0.2,3.8],[-0.35,3.2],[-0.45,2.8],[-0.15,2.7],[-0.35,2.3],[-0.1,1.8],[-0.4,1.8],[0.15,2.3],[0.25,2.6],[0.35,3.0],[0.2,3.5],[0.4,3.7],[0.25,4.4],[0.4,4.3],[0.4,5.4],[0.3,6.5],[0.4,7.6],[0.35,2.0],[0.25,1.5],
  [-0.3,5.8],[-0.5,4.5],[-0.25,3.3],[-0.05,2.5],[0.1,2.9],[0.45,5.0],[0.35,6.0],[0.45,8.8],[0.3,3.4],
  [-2.81,1.13],[-2.6,1.2],[-2.4,0.7],[-2.2,1.2],[-1.99,0.1],[-2.0,0.8],[-1.8,0.4],[-1.7,1.1],[-1.55,0.7],[-1.4,0.2],[-1.3,1.0],[-1.15,0.5],[-1.0,1.2],[-0.9,0.1],[-0.8,0.8],[-0.65,0.4],[-0.55,1.1],[-0.45,0.0],[-0.3,0.7],[-0.15,0.2],[0.0,1.0],[0.1,0.4],[0.25,0.0],[0.3,0.9],[0.45,0.3],[0.6,1.1],[0.7,0.6],[0.85,0.1],[0.95,0.9],[1.1,0.4],[1.25,1.1],[1.35,0.2],[1.5,0.56],[1.65,1.0],[1.8,0.3],[2.16,1.26],
  [-2.5,0.4],[-2.3,0.9],[-2.1,0.4],[-1.85,1.0],[-1.65,0.5],[-1.5,1.0],[-1.3,0.4],[-1.2,0.8],[-1.05,0.0],[-0.95,0.6],[-0.75,1.1],[-0.7,0.2],[-0.5,0.6],[-0.35,1.0],[-0.25,0.4],[-0.1,0.7],[0.05,0.2],[0.2,0.6],[0.35,0.4],[0.45,1.0],[0.6,0.3],[0.75,0.9],[0.9,0.5],[1.05,1.0],[1.2,0.6],[1.4,0.9],[1.6,0.4],[1.7,0.8],[-1.6,1.2],[-1.1,1.25],[-0.4,1.25],[0.2,1.2],[0.9,1.25],[-2.0,1.2]]
var p6Genes = [['Krt10',-6.02,16.26],['Krt1',-6.14,12.82],['Tchh',-6.14,12.31],['Krt71',-7.19,10.0],['Krt77',-5.4,9.81],
  ['Lars2',2.28,12.99],['Gm15564',2.44,10.88],['Rmrp',2.13,8.7],['Rn7sk',2.65,9.15],['Rn18s-rs5',2.28,8.7]]

// where each repelled gene label sits (label centre, in axis units) and which ones get a segment
var labelAt = [
  {Htra1: [-2.54, 23.1], Igfbp3: [-2.83, 20.7], Mest: [-2.65, 18.2], A2m: [-3.12, 13.8], Cd5l: [-2.54, 9.74],
    Dcstamp: [2.49, 20.7], Aldh1a3: [3.01, 18.4], Il2ra: [2.71, 14.0], Siglech: [2.8, 9.7], Cxcl13: [3.3, 7.7]},
  {Matn2: [-2.87, 23.5], Pgap6: [-2.12, 15.9], Itgbl1: [-3.54, 13.9], Vsig4: [-3.01, 10.4], Cyp2e1: [-4.58, 8.47],
    Cxcl13: [3.18, 12.0], Il6: [2.94, 9.7], Trem1: [1.72, 7.65], Lcn2: [4.03, 7.65], Il1b: [4.06, 5.74]},
  {Folr2: [-2.74, 30.4], Htra1: [-2.2, 21.7], Ly9: [-2.34, 15.5], Pgap6: [-2.74, 12.5], Cd5l: [-3.46, 8.7],
    S100a8: [4.04, 29.2], Trem1: [2.65, 18.2], S100a9: [5.49, 16.6], Asprv1: [3.4, 14.0], Hcar2: [5.34, 11.45]},
  {Col23a1: [3.09, 12.5], Mmp13: [4.64, 11.3], Hcar2: [3.3, 7.48], Mmrn1: [4.39, 6.44], Ccl21a: [5.72, 5.37],
    Hspb6: [-2.74, 6.62], Xirp2: [-3.87, 5.59], Mybpc2: [-6.52, 5.08], Ckm: [-3.41, 4.21], Myh4: [-5.12, 3.13]},
  {Unc93a: [0.49, 6.18], Nol3: [-2.42, 4.37], Ankrd1: [0.0, 3.39], Gm11716: [-3.66, 2.9], Ankrd2: [-5.52, 1.39], Aldh1a2: [-2.46, 1.0],
    Vsig4: [2.46, 7.69], Lrp1b: [4.78, 7.61], Cyp2e1: [3.73, 6.14], Retnla: [3.88, 4.57]},
  {Krt10: [-7.23, 16.95], Krt1: [-6.33, 13.7], Tchh: [-7.38, 12.3], Krt71: [-7.63, 10.8], Krt77: [-5.36, 10.6],
    Lars2: [3.14, 13.7], Gm15564: [3.29, 11.65], Rmrp: [1.75, 9.9], Rn7sk: [4.19, 9.77], 'Rn18s-rs5': [4.3, 8.3]}
]
var leaders = [[], ['Lcn2'], ['S100a9'], ['Hspb6'], ['Nol3', 'Ankrd2', 'Lrp1b'], ['Rmrp']]

var panels = [
  {down: p1Down, up: p1Up, ns: p1Ns, genes: p1Genes},
  {down: p2Down, up: p2Up, ns: p2Ns, genes: p2Genes},
  {down: p3Down, up: p3Up, ns: p3Ns, genes: p3Genes},
  {down: p4Down, up: p4Up, ns: p4Ns, genes: p4Genes},
  {down: p5Down, up: p5Up, ns: p5Ns, genes: p5Genes},
  {down: p6Down, up: p6Up, ns: p6Ns, genes: p6Genes}
]

var X_MIN = -8.8, X_MAX = 8.8
var GRID_W = 466, GRID_H = 433
var COL_X = [102, 730, 1359]
var ROW_Y = [140, 753]
var DOT = 11
var FONT = '"Liberation Sans", Arial, Helvetica, sans-serif'
var INK = '#1a1a1a'
var BLUE = '#0000ff', RED = '#ff0000', GREY = '#bebebe'

function gridRect(k) {
  return { left: COL_X[k % 3], top: ROW_Y[Math.floor(k / 3)], width: GRID_W, height: GRID_H }
}

function toPx(k, x, y) {
  var r = gridRect(k), yr = yRanges[k]
  return [r.left + (x - X_MIN) / (X_MAX - X_MIN) * r.width,
    r.top + (yr[1] - y) / (yr[1] - yr[0]) * r.height]
}

function dots(k, data, color, alpha, z) {
  return {
    type: 'scatter', xAxisIndex: k, yAxisIndex: k, data: data, z: z,
    symbolSize: DOT, silent: true, animation: false,
    itemStyle: { color: color, opacity: alpha }
  }
}

function geneSeries(k) {
  var genes = panels[k].genes
  return {
    type: 'scatter', xAxisIndex: k, yAxisIndex: k, z: 4, symbolSize: DOT, silent: true, animation: false,
    data: genes.map(function (g) {
      return {
        name: g[0], value: [g[1], g[2]],
        itemStyle: { color: g[1] < 0 ? BLUE : RED, opacity: 0.6 },
        labelLine: { show: leaders[k].indexOf(g[0]) >= 0 }
      }
    }),
    label: { show: true, formatter: '{b}', fontSize: 19, fontFamily: FONT, color: INK, opacity: 1 },
    labelLine: { show: false, lineStyle: { color: INK, width: 1.3, opacity: 1 } },
    labelLayout: function (p) {
      var g = genes[p.dataIndex]
      var at = labelAt[k][g[0]]
      var px = toPx(k, at[0], at[1])
      return { x: px[0], y: px[1], align: 'center', verticalAlign: 'middle' }
    }
  }
}

function cutLines(k) {
  return {
    type: 'scatter', xAxisIndex: k, yAxisIndex: k, data: [], z: 3, silent: true, animation: false,
    markLine: {
      silent: true, animation: false, symbol: ['none', 'none'], label: { show: false },
      lineStyle: { type: [7, 5], color: '#222', width: 1.8 },
      data: [{ xAxis: -fcCut }, { xAxis: fcCut }, { yAxis: fdrCut }]
    }
  }
}

function panelTexts(k) {
  var r = gridRect(k)
  var right = r.left + r.width
  var bottom = r.top + r.height
  var yFdr = toPx(k, 0, fdrCut)[1]
  var xLo = toPx(k, -fcCut, 0)[0], xHi = toPx(k, fcCut, 0)[0]
  function txt(s, x, y, size, color, align) {
    return { type: 'text', x: x, y: y, silent: true,
      style: { text: s, fill: color, fontSize: size, fontFamily: FONT, textAlign: align, textVerticalAlign: 'middle' } }
  }
  return [
    txt(titles[k], r.left, r.top - 22, 25, INK, 'left'),
    txt(downCounts[k] + ' Down', r.left + 21, r.top + 20, 20, BLUE, 'left'),
    txt(upCounts[k] + ' Up', right - 20, r.top + 20, 20, RED, 'right'),
    txt('FDR <0.05', right - 20, yFdr + 17, 18, INK, 'right'),
    txt('-1.5 FC', xLo - 5, bottom - 19, 18, INK, 'right'),
    txt('+1.5 FC', xHi + 4, bottom - 19, 18, INK, 'left')
  ]
}

var nameRich = { sub: { fontSize: 19, fontFamily: FONT, color: INK, padding: [14, 1, 0, 1], verticalAlign: 'bottom' } }

var grids = [], xAxes = [], yAxes = [], series = []
var graphics = [{
  type: 'text', x: 946, y: 40, silent: true,
  style: { text: mainTitle, fill: INK, fontSize: 37, fontFamily: FONT, textAlign: 'center', textVerticalAlign: 'middle' }
}]

for (var k = 0; k < 6; k++) {
  var r = gridRect(k)
  grids.push({ left: r.left, top: r.top, width: r.width, height: r.height,
    show: true, borderColor: '#333', borderWidth: 1.4, backgroundColor: 'transparent' })
  xAxes.push({
    gridIndex: k, type: 'value', min: X_MIN, max: X_MAX,
    axisLine: { show: true, onZero: false, lineStyle: { color: '#333', width: 1.4 } },
    axisTick: { show: true, length: 5, customValues: xTicks, lineStyle: { color: '#333', width: 1.4 } },
    axisLabel: { customValues: xTicks, fontSize: 22, color: INK, fontFamily: FONT, margin: 10 },
    splitLine: { show: false },
    name: 'log{sub|2} Fold Change(FC)', nameLocation: 'middle', nameGap: 38,
    nameTextStyle: { fontSize: 28, color: INK, fontFamily: FONT, rich: nameRich }
  })
  yAxes.push({
    gridIndex: k, type: 'value', min: yRanges[k][0], max: yRanges[k][1],
    axisLine: { show: true, onZero: false, lineStyle: { color: '#333', width: 1.4 } },
    axisTick: { show: true, length: 5, customValues: yTicks[k], lineStyle: { color: '#333', width: 1.4 } },
    axisLabel: { customValues: yTicks[k], fontSize: 22, color: INK, fontFamily: FONT, margin: 8 },
    splitLine: { show: false },
    name: '\u2212 log{sub|10} FDR', nameLocation: 'middle', nameGap: 50, nameRotate: 90,
    nameTextStyle: { fontSize: 28, color: INK, fontFamily: FONT, rich: nameRich }
  })
  series.push(dots(k, panels[k].ns, GREY, 0.7, 1))
  series.push(dots(k, panels[k].down, BLUE, 0.6, 2))
  series.push(dots(k, panels[k].up, RED, 0.6, 2))
  series.push(cutLines(k))
  series.push(geneSeries(k))
  graphics = graphics.concat(panelTexts(k))
}

var chart = echarts.init(document.getElementById('chart'), null, { renderer: 'canvas' })
chart.setOption({
  animation: false,
  backgroundColor: '#ffffff',
  grid: grids,
  xAxis: xAxes,
  yAxis: yAxes,
  series: series,
  graphic: graphics
})
</script>
</body>
</html>
